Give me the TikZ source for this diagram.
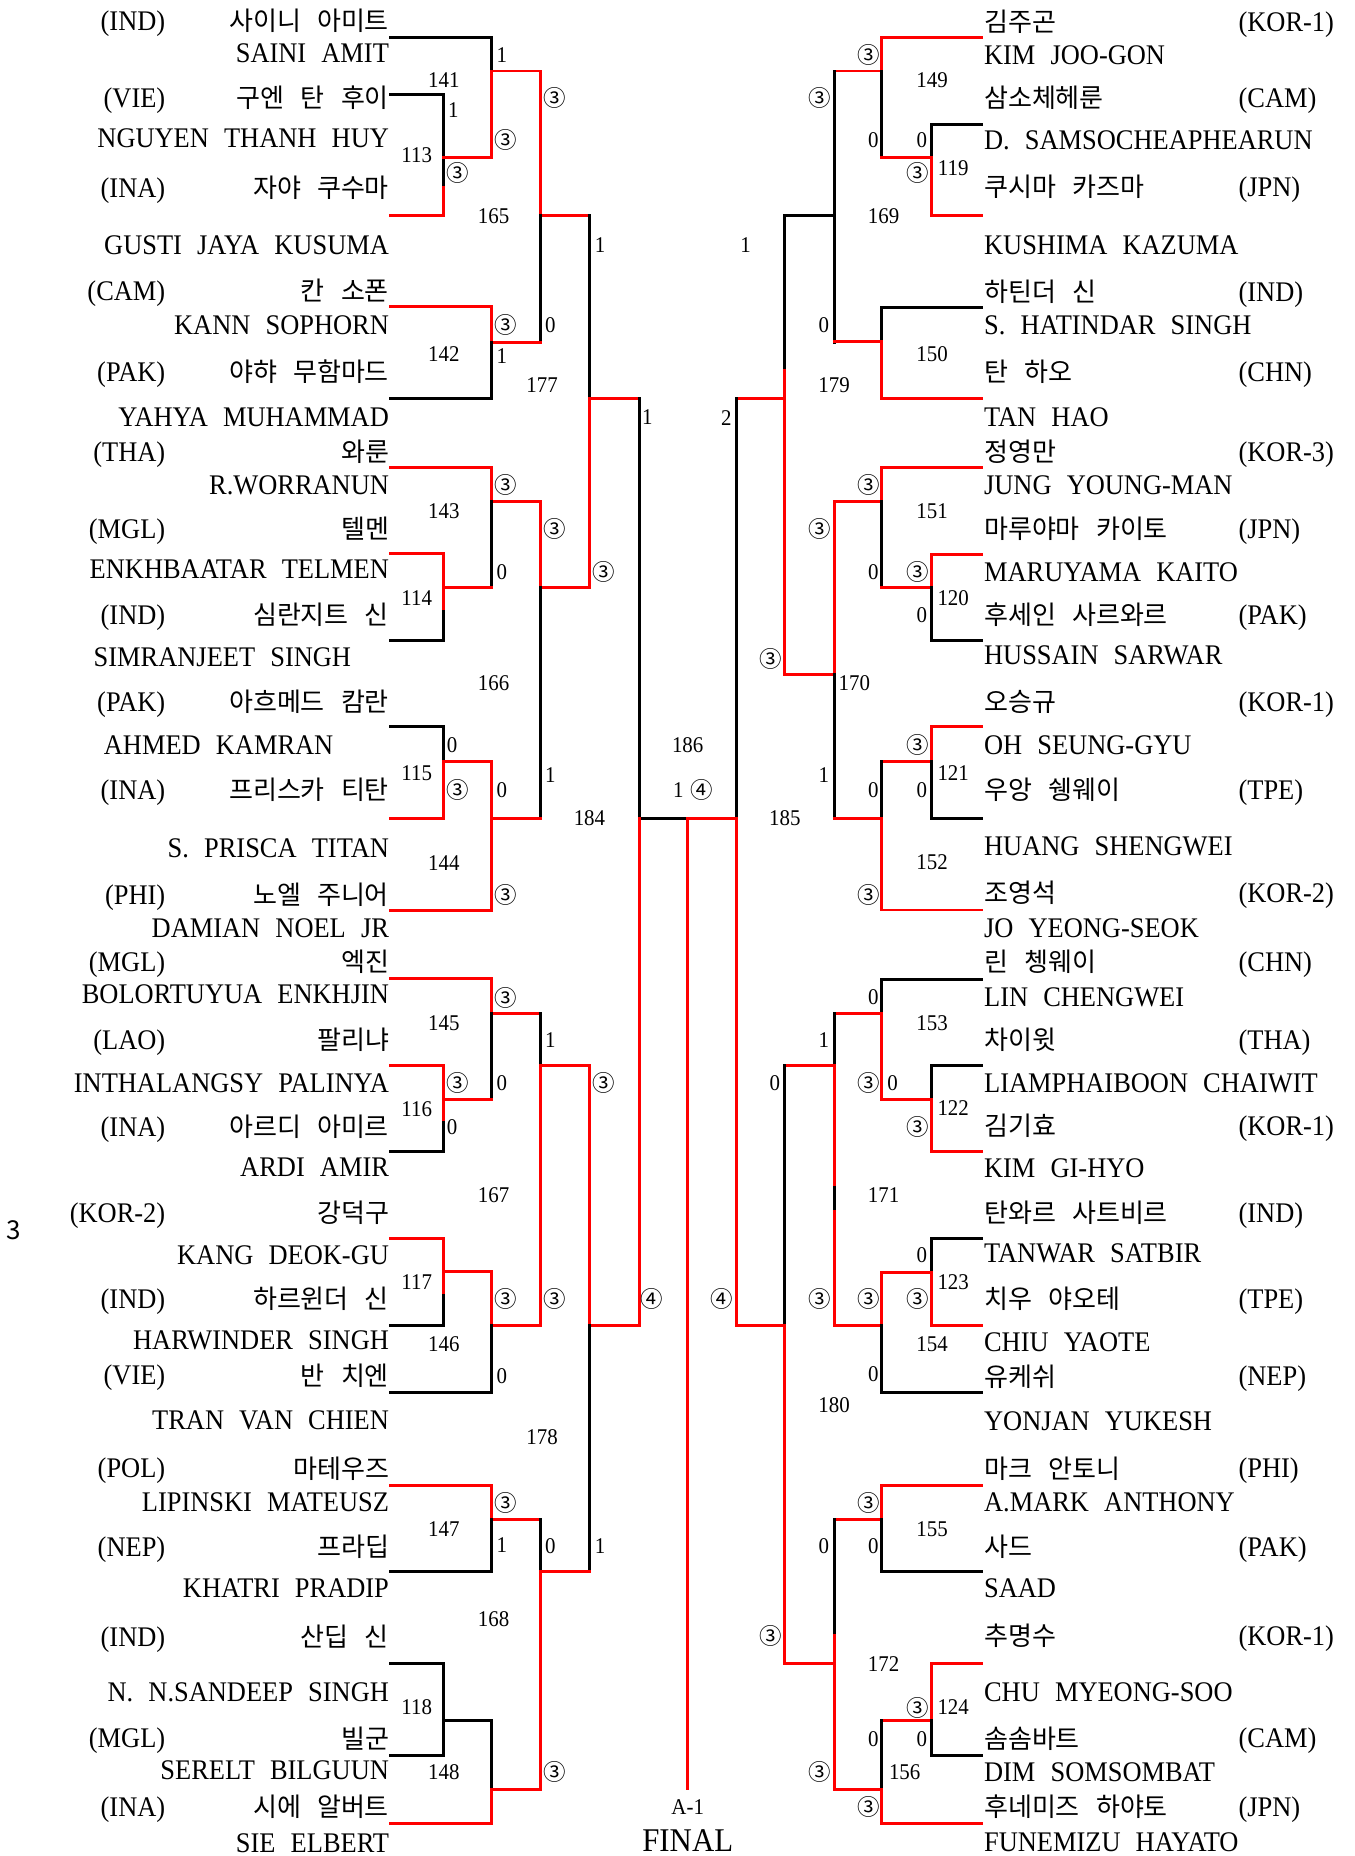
\documentclass[tikz,border=0pt]{standalone}
\usepackage{fontspec}
\setmainfont{Liberation Serif}[FakeStretch=0.93]
\newfontfamily\kr{Noto Sans CJK KR}
\usepackage{tikz}
\newcommand\enfont{\fontsize{12}{12}\selectfont\spaceskip=6.4pt\relax}
\newcommand\krfont{\kr\fontsize{11}{11}\selectfont\spaceskip=6.8pt\relax}

\begin{document}
\begin{tikzpicture}[x=0.5pt, y=-0.5pt,
  lost/.style={line width=1.25pt, line cap=rect},
  won/.style={line width=1.25pt, line cap=rect, red},
  enname/.style={font=\enfont, inner sep=0pt, text height=7.9pt, text depth=0pt},
  krname/.style={font=\krfont, inner sep=0pt, text height=8.1pt, text depth=0pt},
  score/.style={font=\fontsize{9.5}{9.5}\selectfont, inner sep=0pt, text height=6.4pt, text depth=0pt},
  circnum/.style={font=\kr\fontsize{9.5}{9.5}\selectfont, inner sep=0pt, text height=7.3pt, text depth=0pt}]
\useasboundingbox (0,0) rectangle (1144,1568);

% left half: players
\foreach \y/\c/\n [count=\i] in {18/IND/사이니 아미트, 83/VIE/구엔 탄 후이, 159/INA/자야 쿠수마, 246/CAM/칸 소폰, 314/PAK/야햐 무함마드, 381.6/THA/와룬, 447/MGL/텔멘, 519.6/IND/심란지트 신, 592.8/PAK/아흐메드 캄란, 667.4/INA/프리스카 티탄, 756/PHI/노엘 주니어, 813/MGL/엑진, 878.7/LAO/팔리냐, 952/INA/아르디 아미르, 1025/KOR-2/강덕구, 1097.5/IND/하르윈더 신, 1162/VIE/반 치엔, 1240.6/POL/마테우즈, 1306.8/NEP/프라딥, 1382.8/IND/산딥 신, 1468.7/MGL/빌군, 1526.4/INA/시에 알버트} {
  \node (lcode\i) [enname, anchor=east] at (140,\y) {(\c)};
  \node (lkr\i) [krname, anchor=east] at (329,\y) {\n};
}
\foreach \x/\y/\n [count=\i] in {329/45/SAINI AMIT, 329/117/NGUYEN THANH HUY, 329/207/GUSTI JAYA KUSUMA, 329/274.6/KANN SOPHORN, 329/352/YAHYA MUHAMMAD, 329/409.8/R.WORRANUN, 329/480.7/ENKHBAATAR TELMEN, 297/555.4/SIMRANJEET SINGH, 282/629.4/AHMED KAMRAN, 329/716.7/S. PRISCA TITAN, 329/784.3/DAMIAN NOEL JR, 329/839.8/BOLORTUYUA ENKHJIN, 329/914.7/INTHALANGSY PALINYA, 329/985.7/ARDI AMIR, 329/1060.3/KANG DEOK-GU, 329/1132.1/HARWINDER SINGH, 329/1199.7/TRAN VAN CHIEN, 329/1268.7/LIPINSKI MATEUSZ, 329/1342/KHATRI PRADIP, 329/1429.3/N. N.SANDEEP SINGH, 329/1495.4/SERELT BILGUUN, 329/1557/SIE ELBERT} {
  \node (len\i) [enname, anchor=east] at (\x,\y) {\n};
}

% right half: players
\foreach \y/\c/\n [count=\i] in {18.3/KOR-1/김주곤, 83/CAM/삼소체헤룬, 157.7/JPN/쿠시마 카즈마, 246.4/IND/하틴더 신, 314/CHN/탄 하오, 381.6/KOR-3/정영만, 447/JPN/마루야마 카이토, 519.6/PAK/후세인 사르와르, 592.8/KOR-1/오승규, 667.4/TPE/우앙 쉥웨이, 754.7/KOR-2/조영석, 813/CHN/린 쳉웨이, 878.7/THA/차이윗, 951.3/KOR-1/김기효, 1025/IND/탄와르 사트비르, 1097.5/TPE/치우 야오테, 1163/NEP/유케쉬, 1240.6/PHI/마크 안토니, 1306.8/PAK/사드, 1382/KOR-1/추명수, 1468.7/CAM/솜솜바트, 1526.4/JPN/후네미즈 하야토} {
  \node (rkr\i) [krname, anchor=west] at (831,\y) {\n};
  \node (rcode\i) [enname, anchor=west] at (1046,\y) {(\c)};
}
\foreach \y/\n [count=\i] in {46.5/KIM JOO-GON, 118.3/D. SAMSOCHEAPHEARUN, 207/KUSHIMA KAZUMA, 274.6/S. HATINDAR SINGH, 352/TAN HAO, 409.8/JUNG YOUNG-MAN, 483/MARUYAMA KAITO, 553.4/HUSSAIN SARWAR, 629.4/OH SEUNG-GYU, 714.5/HUANG SHENGWEI, 784.3/JO YEONG-SEOK, 842/LIN CHENGWEI, 914.7/LIAMPHAIBOON CHAIWIT, 987/KIM GI-HYO, 1059/TANWAR SATBIR, 1133.5/CHIU YAOTE, 1201/YONJAN YUKESH, 1268.7/A.MARK ANTHONY, 1342/SAAD, 1429.3/CHU MYEONG-SOO, 1496.8/DIM SOMSOMBAT, 1556/FUNEMIZU HAYATO} {
  \node (ren\i) [enname, anchor=west] at (831,\y) {\n};
}

% left half: bracket
\draw[lost] (330,31.5) -- (415,31.5) -- (415,60);
\draw[won] (415,133) -- (415,60) -- (457,60);
\draw[lost] (330,80) -- (375,80) -- (375,158);
\draw[won] (330,182) -- (375,182) -- (375,158) (375,133) -- (415,133);
\draw[won] (457,60) -- (457,182) -- (498,182);
\draw[lost] (457,182) -- (457,289);
\draw[won] (330,259) -- (415,259) -- (415,289) -- (457,289);
\draw[lost] (415,289) -- (415,337) -- (330,337);
\draw[lost] (498,182) -- (498,337);
\draw[won] (457,496.5) -- (498,496.5) -- (498,337) -- (540,337);
\draw[lost] (540,337) -- (540,691.4) -- (581,691.4);
\draw[won] (540,691.4) -- (540,1119.4) -- (498,1119.4);
\draw[won] (330,395) -- (415,395) -- (415,424) -- (457,424);
\draw[lost] (415,424) -- (415,496.5);
\draw[won] (375,496.5) -- (415,496.5);
\draw[won] (330,468) -- (375,468) -- (375,517);
\draw[lost] (375,517) -- (375,541) -- (330,541);
\draw[won] (457,424) -- (457,496.5);
\draw[lost] (457,496.5) -- (457,691.4);
\draw[won] (415,691.4) -- (457,691.4);
\draw[lost] (330,614) -- (375,614) -- (375,643);
\draw[won] (375,643) -- (375,691.4) -- (330,691.4) (375,643) -- (415,643);
\draw[won] (415,643) -- (415,769) -- (330,769);
\draw[won] (330,827) -- (415,827) -- (415,856) -- (457,856);
\draw[lost] (415,856) -- (415,929);
\draw[won] (375,929) -- (415,929);
\draw[won] (330,900) -- (375,900) -- (375,948.5);
\draw[lost] (375,948.5) -- (375,973) -- (330,973);
\draw[lost] (457,856) -- (457,900);
\draw[won] (498,900) -- (457,900) -- (457,1119.4) -- (415,1119.4);
\draw[won] (498,900) -- (498,1119.4);
\draw[lost] (498,1119.4) -- (498,1327.3);
\draw[won] (457,1327.3) -- (498,1327.3);
\draw[won] (330,1046) -- (375,1046) -- (375,1094.7) (375,1074.4) -- (415,1074.4);
\draw[lost] (375,1094.7) -- (375,1119.4) -- (330,1119.4);
\draw[won] (415,1074.4) -- (415,1119.4);
\draw[lost] (415,1119.4) -- (415,1176.6) -- (330,1176.6);
\draw[won] (330,1254.7) -- (415,1254.7) -- (415,1283.7) -- (457,1283.7);
\draw[lost] (415,1283.7) -- (415,1327.3) -- (330,1327.3);
\draw[lost] (457,1283.7) -- (457,1327.3);
\draw[won] (457,1327.3) -- (457,1511.5) -- (415,1511.5);
\draw[lost] (330,1405.3) -- (375,1405.3) -- (375,1482.8) -- (330,1482.8) (375,1453.8) -- (415,1453.8) -- (415,1511.5);
\draw[won] (415,1511.5) -- (415,1540.5) -- (330,1540.5);

% final
\draw[won] (581,1511) -- (581,691.4) -- (622,691.4);

% right half: bracket
\draw[won] (829,31.5) -- (745,31.5) -- (745,60) -- (705,60);
\draw[lost] (745,60) -- (745,133);
\draw[won] (787,133) -- (745,133);
\draw[lost] (829,104.8) -- (787,104.8) -- (787,133);
\draw[won] (787,133) -- (787,182.2) -- (829,182.2);
\draw[lost] (705,60) -- (705,289) (705,182.2) -- (663,182.2);
\draw[won] (745,288.6) -- (705,288.6);
\draw[lost] (829,259.4) -- (745,259.4) -- (745,288.6);
\draw[won] (745,288.6) -- (745,337) -- (829,337);
\draw[lost] (663,182.2) -- (663,312.6);
\draw[won] (663,312.6) -- (663,569.7) -- (705,569.7) (663,337) -- (622,337);
\draw[lost] (622,337) -- (622,691.4);
\draw[won] (622,691.4) -- (622,1119.4) -- (663,1119.4);
\draw[won] (829,395) -- (745,395) -- (745,424) -- (705,424);
\draw[lost] (745,424) -- (745,496.5);
\draw[won] (787,496.5) -- (745,496.5);
\draw[won] (829,468.3) -- (787,468.3) -- (787,496.5);
\draw[lost] (787,496.5) -- (787,541.3) -- (829,541.3);
\draw[won] (705,424) -- (705,569.7);
\draw[lost] (705,569.7) -- (705,691.4);
\draw[won] (745,691.4) -- (705,691.4);
\draw[won] (829,614) -- (787,614) -- (787,643) -- (745,643);
\draw[lost] (787,643) -- (787,691.4) -- (829,691.4);
\draw[lost] (745,643) -- (745,691.4);
\draw[won] (745,691.4) -- (745,768.8) -- (829,768.8);
\draw[lost] (829,827.1) -- (745,827.1) -- (745,856.1);
\draw[won] (705,856.1) -- (745,856.1) -- (745,928.8) -- (787,928.8);
\draw[lost] (829,899.8) -- (787,899.8) -- (787,928.8);
\draw[won] (787,928.8) -- (787,973) -- (829,973);
\draw[lost] (705,856.1) -- (705,899.8);
\draw[won] (663,899.8) -- (705,899.8) -- (705,1119.4) -- (745,1119.4);
\draw[lost] (705,1003) -- (705,1021);
\draw[lost] (663,899.8) -- (663,1119.4);
\draw[won] (663,1119.4) -- (663,1405.3) -- (705,1405.3);
\draw[lost] (829,1046.2) -- (787,1046.2) -- (787,1075);
\draw[won] (787,1075) -- (787,1119.4) -- (829,1119.4) (787,1075) -- (745,1075) -- (745,1119.4);
\draw[lost] (745,1119.4) -- (745,1176.6) -- (829,1176.6);
\draw[won] (829,1254.7) -- (745,1254.7) -- (745,1283.7) -- (705,1283.7);
\draw[lost] (745,1283.7) -- (745,1327.3) -- (829,1327.3);
\draw[lost] (705,1283.7) -- (705,1381.4);
\draw[won] (705,1381.4) -- (705,1511.5) -- (745,1511.5);
\draw[won] (829,1405.3) -- (787,1405.3) -- (787,1453.8) -- (745,1453.8);
\draw[lost] (787,1453.8) -- (787,1482.8) -- (829,1482.8);
\draw[lost] (745,1453.8) -- (745,1511.5);
\draw[won] (745,1511.5) -- (745,1540.5) -- (829,1540.5);

% match numbers and scores
\foreach \x/\y/\t [count=\i] in {424/46.5/1, 375/67.6/141, 383/93/1, 352/131/113, 417/182.5/165, 465/274.6/0, 507/207/1, 375/299/142, 424/301/1, 458/325/177, 547/352/1, 375/431.7/143, 424/483/0, 352/505.5/114, 417/577.3/166, 465/654.8/1, 382/629.4/0, 352/652.8/115, 424/667.4/0, 375/729.4/144, 498/691.4/184, 375/864.6/145, 424/914.7/0, 352/937.2/116, 382/952/0, 465/878.7/1, 417/1009.6/167, 352/1082.8/117, 375/1135/146, 424/1162/0, 458/1213.8/178, 507/1306/1, 375/1291.3/147, 424/1305.3/1, 465/1306/0, 417/1367.3/168, 352/1442/118, 375/1496.8/148, 581/629/186, 573/667.5/1, 613.6/353/2, 787.4/67.6/149, 737.8/118.3/0, 778.7/118.3/0, 805.3/142.2/119, 696/274.6/0, 746.5/182.5/169, 787.4/299/150, 630/207/1, 704.7/325.3/179, 787.4/431.7/151, 737.8/483/0, 778.7/519.6/0, 805.3/505.5/120, 721.8/577.3/170, 696/654.8/1, 663/691.4/185, 805.3/652.8/121, 778.7/667.4/0, 737.8/667.4/0, 787.4/728.5/152, 737.8/842/0, 787.4/864/153, 754/914.7/0, 805.3/936.4/122, 696/878.7/1, 746.5/1009.6/171, 654.7/914.7/0, 778.7/1060.3/0, 805.3/1082.8/123, 787.4/1135/154, 737.8/1160.3/0, 704.7/1187/180, 787.4/1291.3/155, 737.8/1306/0, 696/1306/0, 746.5/1405.3/172, 805.3/1442/124, 778.7/1468.7/0, 737.8/1468.7/0, 764.3/1496.8/156} {
  \node (sc\i) [score] at (\x,\y) {\t};
}
\foreach \x/\y [count=\i] in {427/118, 387/146.4, 469/83, 427/274.6, 427/409.8, 469/447, 510/483, 387/667.4, 427/756, 427/842.6, 387/914.7, 469/1097.5, 510/915, 427/1097.5, 427/1270, 469/1496.8, 734/46.5, 775/146.4, 692.6/83, 734/409.8, 775/483, 692.6/447, 650.9/556.2, 775/629.4, 734/756, 734/914.7, 775/952, 692.6/1097.5, 775/1097.5, 734/1097.5, 734/1270, 650.9/1382, 775/1442.5, 692.6/1496.8, 734/1526.4} {
  \node (three\i) [circnum] at (\x,\y) {③};
}
\foreach \x/\y [count=\i] in {551/1097.5, 593/667.5, 610/1097.5} {
  \node (four\i) [circnum] at (\x,\y) {④};
}

\node (round) [score] at (581,1526.5) {A-1};
\node (final) [font=\fontsize{14}{14}\selectfont, inner sep=0pt, text height=9.3pt, text depth=0pt] at (581,1555) {FINAL};
\node (side) [font=\kr\fontsize{11}{11}\selectfont, inner sep=0pt] at (11.3,1039) {3};
\end{tikzpicture}
\end{document}
